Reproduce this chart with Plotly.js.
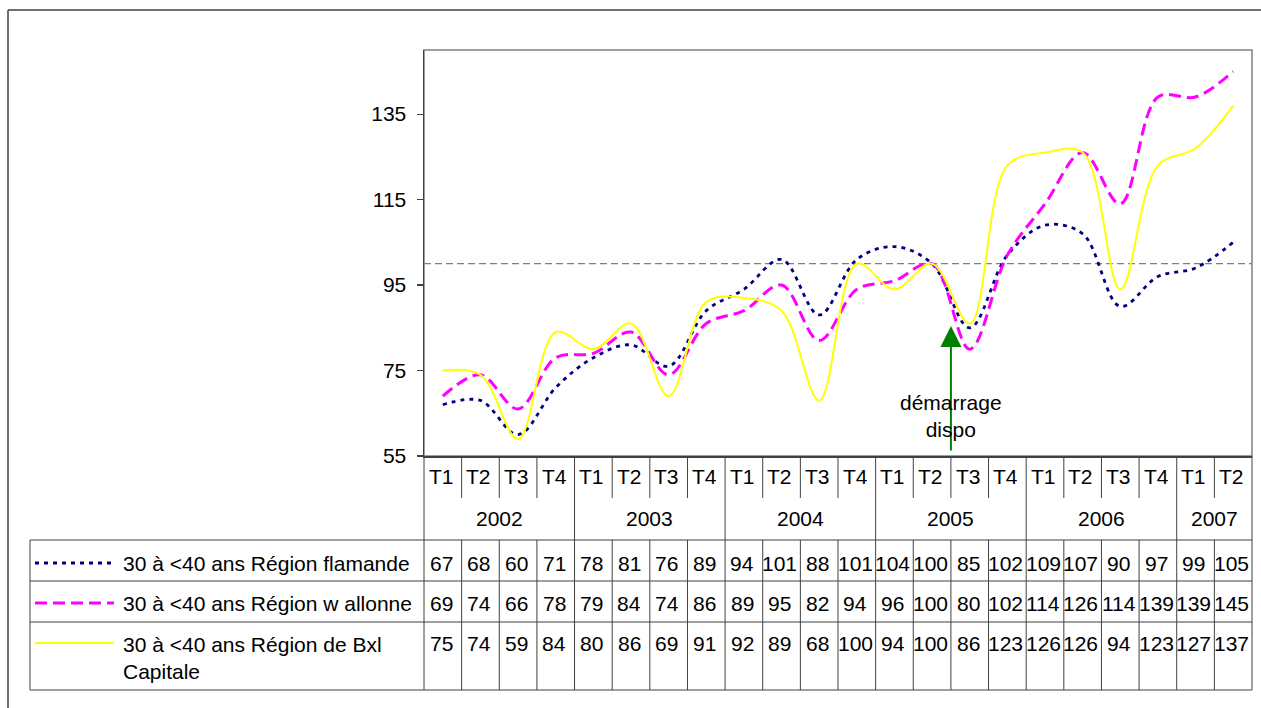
<!DOCTYPE html>
<html><head><meta charset="utf-8">
<script src="https://cdn.plot.ly/plotly-3.0.1.min.js"></script>
<style>body{margin:0;background:#fff}#chart{width:1261px;height:708px}</style>
</head><body><div id="chart"></div>
<script>
// ---- data ----
const quarters = ['T1','T2','T3','T4','T1','T2','T3','T4','T1','T2','T3','T4',
                  'T1','T2','T3','T4','T1','T2','T3','T4','T1','T2'];
const years = ['2002','2003','2004','2005','2006','2007'];
const quartersPerYear = [4,4,4,4,4,2];
const flamande = [67,68,60,71,78,81,76,89,94,101,88,101,104,100,85,102,109,107,90,97,99,105];
const wallonne = [69,74,66,78,79,84,74,86,89,95,82,94,96,100,80,102,114,126,114,139,139,145];
const bxl      = [75,74,59,84,80,86,69,91,92,89,68,100,94,100,86,123,126,126,94,123,127,137];
const seriesNames = ['30 à <40 ans Région flamande','30 à <40 ans Région w allonne','30 à <40 ans Région de Bxl<br>Capitale'];
const yTicks = [55,75,95,115,135];
const baseline = 100;
const startLabel = 'démarrage<br>dispo';
const startPos = 13.5; // between 2005 T2 and 2005 T3

// ---- geometry ----
const W = 1261, H = 708, L = 424, R = 1252, T = 50, B = 456;
const xr = [-0.5, quarters.length - 0.5];
const yr = [55, 150];
const xp = v => (v - xr[0]) / (xr[1] - xr[0]);
const xpx = px => (px - L) / (R - L);
const yp = py => (B - py) / (B - T);
const FONT = 'Liberation Sans, Arial, sans-serif';
const FS = 21;
const gridC = '#404040';

const styles = [
  {color:'#000080', dash:'4px,5px', width:2.8},
  {color:'#FF00FF', dash:'12px,6px', width:3},
  {color:'#FFFF00', dash:'solid', width:2}
];
const values = [flamande, wallonne, bxl];
const xs = quarters.map((q,i)=>i);

const traces = values.map((v,k)=>({
  type:'scatter', mode:'lines', x: xs, y: v, name: seriesNames[k].replace('<br>',' '),
  line:{color:styles[k].color, dash:styles[k].dash, width:styles[k].width, shape:'spline', smoothing:1},
  hoverinfo:'skip', showlegend:false
}));

const shapes = [];
const annotations = [];
const hline = (x0,x1,y,c,w,dash) => shapes.push({type:'line',xref:'paper',yref:'paper',x0:x0,x1:x1,y0:y,y1:y,line:{color:c||gridC,width:w||1,dash:dash||'solid'},layer:'above'});
const vline = (x,y0,y1,c,w) => shapes.push({type:'line',xref:'paper',yref:'paper',x0:x,x1:x,y0:y0,y1:y1,line:{color:c||gridC,width:w||1},layer:'above'});

// plot area frame (grey)
shapes.push({type:'rect',xref:'paper',yref:'paper',x0:0,x1:1,y0:0,y1:1,line:{color:'#808080',width:1.5},layer:'below'});
// baseline 100 dashed
shapes.push({type:'line',xref:'paper',yref:'y',x0:0,x1:1,y0:baseline,y1:baseline,line:{color:'#808080',width:1.3,dash:'7px,4px'},layer:'below'});
// outer frame
vline(xpx(8), yp(10), yp(H+5), '#404040', 1.5);
hline(xpx(8), xpx(W+5), yp(10), '#404040', 1.5);

// table rows
const yT = 456, yYearRowEnd = 498, yTab = [540, 581, 622, 690];
const yearBounds = [0];
quartersPerYear.forEach(n => yearBounds.push(yearBounds[yearBounds.length-1] + n));
for (let k = 0; k <= quarters.length; k++) {
  const x = xp(k - 0.5);
  if (yearBounds.includes(k)) {
    vline(x, yp(yT), yp(yTab[3]));
  } else {
    vline(x, yp(yT), yp(yYearRowEnd));
    vline(x, yp(yTab[0]), yp(yTab[3]));
  }
}
vline(xpx(30), yp(yTab[0]), yp(yTab[3]));
yTab.forEach(y => hline(xpx(30), 1, yp(y)));

const txt = (x, y, text, xanchor) => annotations.push({xref:'paper',yref:'paper',x:x,y:y,text:text,showarrow:false,
  xanchor:xanchor||'center',yanchor:'middle',align:'left',font:{family:FONT,size:FS,color:'#000'}});

quarters.forEach((q,i)=> txt(xp(i) - 0.002, yp(476), q));
years.forEach((y,k)=> {
  const a = yearBounds[k], b = yearBounds[k+1];
  txt(xp((a + b - 1)/2), yp(518), y);
});
const rowY = [563, 603, 643];
values.forEach((v,k)=> v.forEach((val,i)=> txt(xp(i) - 0.002, yp(rowY[k]), String(val))));
const legY = [563, 603, 643];
styles.forEach((s,k)=>{
  shapes.push({type:'line',xref:'paper',yref:'paper',x0:xpx(35),x1:xpx(114),y0:yp(legY[k]),y1:yp(legY[k]),
    line:{color:s.color,width:s.width,dash:s.dash},layer:'above'});
});
txt(xpx(121), yp(563), seriesNames[0], 'left');
txt(xpx(121), yp(603), seriesNames[1], 'left');
txt(xpx(121), yp(658), seriesNames[2], 'left');

const pxPerUnit = (B-T)/(yr[1]-yr[0]);
annotations.push({xref:'x',yref:'y',axref:'x',ayref:'y',x:startPos,y:yr[0]+(B-326)/pxPerUnit,
  ax:startPos, ay:yr[0]+(B-452)/pxPerUnit, text:'', showarrow:true, arrowhead:2, arrowsize:2.1,
  arrowwidth:2, arrowcolor:'#008000', standoff:0, startstandoff:0});
annotations.push({xref:'x',yref:'paper',x:startPos,y:yp(416),text:startLabel,showarrow:false,
  xanchor:'center',yanchor:'middle',align:'center',font:{family:FONT,size:FS,color:'#000'}});

const layout = {
  width: W, height: H,
  margin:{l:L, r:W-R, t:T, b:H-B, pad:0},
  paper_bgcolor:'#fff', plot_bgcolor:'#fff',
  font:{family:FONT,size:FS,color:'#000'},
  xaxis:{type:'linear',range:xr,showticklabels:false,ticks:'',showgrid:false,zeroline:false,
    showline:true,linecolor:gridC,linewidth:1.5,fixedrange:true},
  yaxis:{range:yr,tickvals:yTicks,ticktext:yTicks.map(String),ticks:'outside',ticklen:6,tickcolor:gridC,tickwidth:1.2,
    showline:true,linecolor:gridC,linewidth:1.5,showgrid:false,zeroline:false,
    tickfont:{family:FONT,size:FS,color:'#000'},ticklabelstandoff:6,fixedrange:true},
  shapes:shapes, annotations:annotations, showlegend:false
};
Plotly.newPlot('chart', traces, layout, {displayModeBar:false, staticPlot:true});
</script></body></html>
